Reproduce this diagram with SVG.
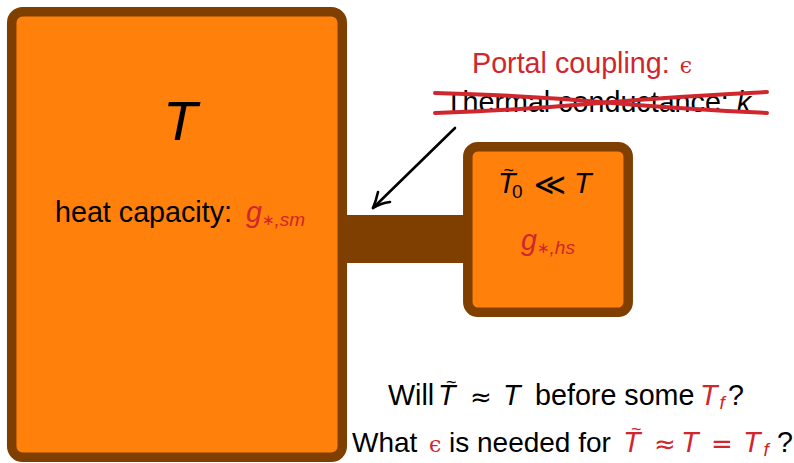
<svg xmlns="http://www.w3.org/2000/svg" width="794" height="463" viewBox="0 0 794 463">
<style>
.box{fill:#ff800a;stroke:#7f3f00;stroke-width:9.5}
.t{font-family:"Liberation Sans",Arial,sans-serif;font-size:28.7px;fill:#000}
.i{font-style:italic}
.r{fill:#d0262d}
.eps{font-family:"DejaVu Serif","Liberation Serif",serif;font-size:22px;font-style:normal}
.sub{font-size:19px}
.ast{font-family:"DejaVu Sans",sans-serif;font-size:15px;font-style:normal}
.sym{font-family:"DejaVu Sans",sans-serif;font-size:26px;text-anchor:middle}
.tl{font-size:18px;font-style:normal}
</style>
<rect width="794" height="463" fill="#fff"/>
<g id="connectors">
  <rect id="link" x="336" y="215" width="132" height="48" fill="#7f3f00"/>
  <g fill="none" stroke="#000" stroke-width="2.6" stroke-linecap="round" stroke-linejoin="round">
    <path d="M455,128 L373,208"/>
    <path d="M378,192 Q376,201 373,208 Q381,203 390,202"/>
  </g>
</g>
<g id="node-sm">
  <rect class="box" x="11.7" y="11.7" width="330.6" height="445.6" rx="11"/>
  <text class="t i" x="163" y="140" style="font-size:56px">T</text>
  <text class="t" x="55" y="222">heat capacity:</text>
  <text class="t i r" x="246" y="222">g<tspan class="ast" dy="3">∗</tspan><tspan class="sub" dy="1">,sm</tspan></text>
</g>
<g id="node-hs">
  <rect class="box" x="467.8" y="146.8" width="160.4" height="165.4" rx="10"/>
  <text class="t i" x="498" y="193">T<tspan class="tl" x="503.5" y="176">~</tspan><tspan class="sub" x="512" y="198" style="font-style:normal">0</tspan></text>
  <text class="sym" x="550" y="195" style="font-size:31px">≪</text>
  <text class="t i" x="574" y="193">T</text>
  <text class="t i r" x="521" y="250">g<tspan class="ast" dy="3">∗</tspan><tspan class="sub" dy="1">,hs</tspan></text>
</g>
<g id="label-coupling">
  <text class="t r" x="472" y="73">Portal coupling: <tspan class="eps" dx="2">ϵ</tspan></text>
  <text class="t" x="445" y="112">Thermal conductance: <tspan class="i">k</tspan></text>
  <g fill="none" stroke="#d0262d" stroke-width="4" stroke-linecap="round">
    <path d="M435,93 Q520,95 600,102 T767,113"/>
    <path d="M435,113 Q520,110 600,103 T767,92"/>
  </g>
</g>
<g id="questions">
  <text class="t" x="388" y="405">Will</text>
  <text class="t i" x="438" y="405">T<tspan class="tl" x="446" y="388">~</tspan></text>
  <text class="sym" x="481" y="406">≈</text>
  <text class="t i" x="503" y="405">T</text>
  <text class="t" x="535" y="405">before some</text>
  <text class="t i r" x="700" y="405">T<tspan class="sub" dx="2" dy="4">f</tspan></text>
  <text class="t" x="728" y="405">?</text>

  <text class="t" x="352" y="452" style="font-size:28px">What</text>
  <text class="eps r" x="429" y="452">ϵ</text>
  <text class="t" x="449" y="452" style="font-size:28px">is needed for</text>
  <text class="t i r" x="623" y="452">T<tspan class="tl" x="631" y="435">~</tspan></text>
  <text class="sym r" x="665" y="453">≈</text>
  <text class="t i r" x="681" y="452">T</text>
  <text class="sym r" x="722" y="453">=</text>
  <text class="t i r" x="743" y="452">T<tspan class="sub" dx="3" dy="4">f</tspan></text>
  <text class="t" x="777" y="452">?</text>
</g>
</svg>
